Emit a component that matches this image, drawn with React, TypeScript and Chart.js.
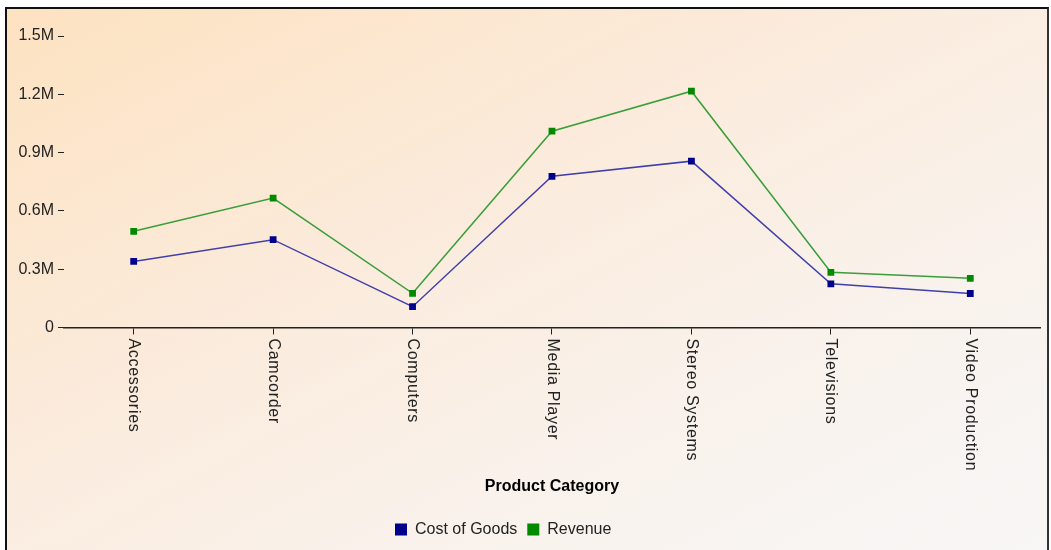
import React, { useEffect, useRef } from "react";
import { Chart, registerables } from "chart.js";

Chart.register(...registerables);

const categories = [
  "Accessories",
  "Camcorder",
  "Computers",
  "Media Player",
  "Stereo Systems",
  "Televisions",
  "Video Production",
];
const costOfGoods = [340000, 452000, 107000, 778000, 856000, 225000, 175000];
const revenue = [495000, 666000, 176000, 1010000, 1216000, 284000, 253000];
const yTickValues = [0, 300000, 600000, 900000, 1200000, 1500000];
const yTickLabels = ["0", "0.3M", "0.6M", "0.9M", "1.2M", "1.5M"];
const seriesNames = ["Cost of Goods", "Revenue"];
const xTitle = "Product Category";

const FONT = '"Liberation Sans", Arial, sans-serif';
const TEXT = "#222222";

const xLabelPlugin = {
  id: "xLabels",
  afterDraw(chart: any) {
    const xs = chart.scales.x;
    const ctx = chart.ctx;
    ctx.save();
    ctx.font = `16px ${FONT}`;
    (ctx as any).letterSpacing = "0.7px";
    ctx.fillStyle = TEXT;
    ctx.textAlign = "left";
    ctx.textBaseline = "middle";
    categories.forEach((lab, i) => {
      const x = xs.getPixelForTick(i);
      const y = xs.top + 11;
      ctx.save();
      ctx.translate(x, y);
      ctx.rotate(Math.PI / 2);
      ctx.fillText(lab, 0, 0);
      ctx.restore();
    });
    (ctx as any).letterSpacing = "0px";
    ctx.restore();
  },
};

const legendShift = {
  id: "legendShift",
  afterLayout(chart: any) {
    const lg = chart.legend;
    if (lg) {
      lg.left = 378;
    }
  },
};

export default function App() {
  const ref = useRef<HTMLCanvasElement | null>(null);
  useEffect(() => {
    if (!ref.current) return;
    Chart.defaults.font.family = FONT;
    Chart.defaults.font.size = 16;
    Chart.defaults.color = TEXT;
    const chart = new Chart(ref.current, {
      type: "line",
      data: {
        labels: categories,
        datasets: [
          {
            label: seriesNames[0],
            data: costOfGoods,
            borderColor: "#4040aa",
            backgroundColor: "#00008c",
            borderWidth: 1.5,
            pointStyle: "rect",
            pointRadius: 4.8,
            pointBorderWidth: 0,
            pointBackgroundColor: "#00008c",
            pointBorderColor: "#00008c",
            tension: 0,
          },
          {
            label: seriesNames[1],
            data: revenue,
            borderColor: "#3a9e3a",
            backgroundColor: "#008a00",
            borderWidth: 1.5,
            pointStyle: "rect",
            pointRadius: 4.8,
            pointBorderWidth: 0,
            pointBackgroundColor: "#008a00",
            pointBorderColor: "#008a00",
            tension: 0,
          },
        ],
      },
      options: {
        responsive: false,
        animation: false,
        layout: { padding: { left: 7.4, right: 7, top: 27, bottom: 2.5 } },
        plugins: {
          tooltip: { enabled: false },
          legend: {
            position: "bottom",
            align: "start",
            labels: {
              boxWidth: 12,
              boxHeight: 12,
              padding: 10,
              color: TEXT,
              font: { size: 16, family: FONT },
              generateLabels(c: any) {
                const items = Chart.defaults.plugins.legend.labels.generateLabels(c);
                items.forEach((it: any, i: number) => {
                  const col = i === 0 ? "#00008c" : "#008a00";
                  it.fillStyle = col;
                  it.strokeStyle = col;
                  it.lineWidth = 0;
                });
                return items;
              },
            },
          },
        },
        scales: {
          x: {
            type: "category",
            offset: true,
            grid: {
              drawOnChartArea: false,
              drawTicks: true,
              tickLength: 7,
              color: TEXT,
              lineWidth: 1,
            },
            border: { display: true, color: TEXT, width: 1.5 },
            ticks: { display: false },
            title: {
              display: true,
              text: xTitle,
              color: "#000000",
              font: { size: 16, weight: "bold", family: FONT },
              padding: { top: 142.8, bottom: 15 },
            },
          },
          y: {
            min: 0,
            max: 1500000,
            afterBuildTicks(scale: any) {
              scale.ticks = yTickValues.map((v) => ({ value: v }));
            },
            grid: {
              drawOnChartArea: false,
              drawTicks: true,
              tickLength: 6,
              color: TEXT,
              lineWidth: 1,
            },
            border: { display: false },
            ticks: {
              padding: 4,
              color: TEXT,
              font: { size: 16, family: FONT },
              callback: (_v: any, i: number) => yTickLabels[i],
            },
          },
        },
      },
      plugins: [xLabelPlugin, legendShift],
    });
    return () => chart.destroy();
  }, []);

  return (
    <div
      style={{
        position: "absolute",
        left: 5,
        top: 7,
        width: 1044,
        height: 543,
        boxSizing: "border-box",
        borderTop: "2px solid #111",
        borderLeft: "2px solid #111",
        borderRight: "2px solid #333",
        borderBottom: "none",
        background:
          "linear-gradient(to bottom right, #fde2c1 0%, #fbebdc 40%, #f9f2ec 70%, #f8f6f6 100%)",
        overflow: "hidden",
      }}
    >
      <canvas ref={ref} width={1040} height={541} style={{ display: "block" }} />
    </div>
  );
}
